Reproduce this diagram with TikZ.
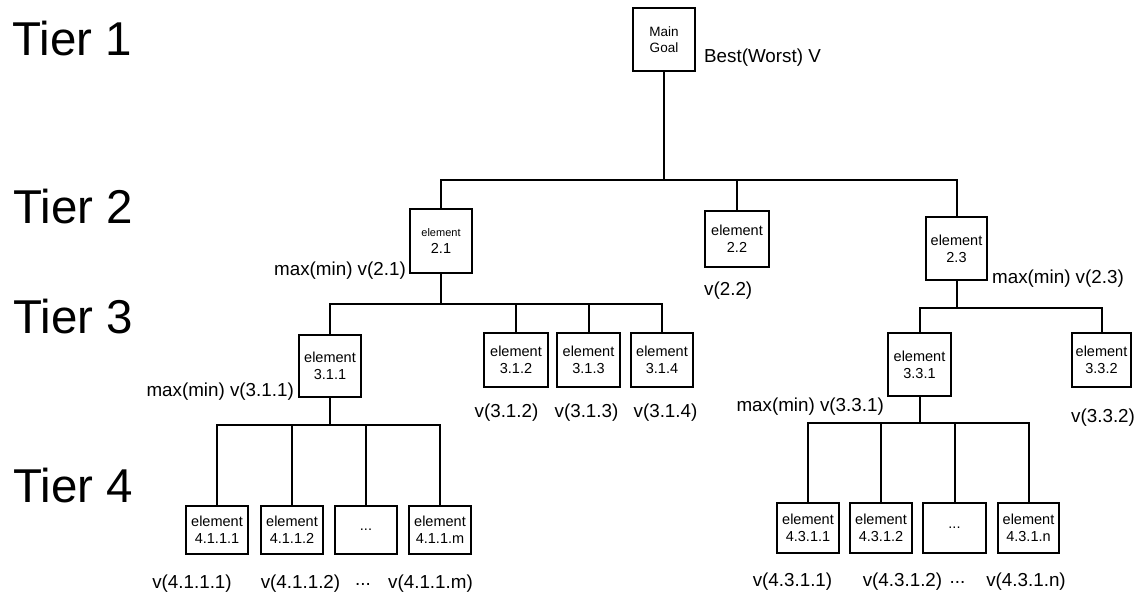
\documentclass[tikz,border=0pt]{standalone}
\usepackage{fontspec}
\setmainfont{Liberation Sans}
\begin{document}
\begin{tikzpicture}[x=1pt,y=-1pt,
  box/.style={draw, line width=2pt, inner sep=0pt, align=center, font=\fontsize{14.5}{17}\selectfont},
  lnk/.style={line width=2pt},
  lab/.style={inner sep=0pt, font=\fontsize{18.8}{22}\selectfont},
  tier/.style={inner sep=0pt, anchor=west, font=\fontsize{47.5}{50}\selectfont}]
\useasboundingbox (0,0) rectangle (1136,594);

% tier labels
\node[tier] (t1) at (12,39) {Tier 1};
\node[tier] (t2) at (13,207) {Tier 2};
\node[tier] (t3) at (13,317) {Tier 3};
\node[tier] (t4) at (13,486) {Tier 4};

% tier 1
\node[box, minimum width=62pt, minimum height=63pt, font=\fontsize{13.5}{16}\selectfont] (mg) at (664,40) {Main\\Goal};
\node[lab, anchor=west] (lmg) at (704,58) {Best(Worst) V};

% tier 2
\node[box, minimum width=62pt, minimum height=64pt] (e21) at (441,241) {{\fontsize{11}{13}\selectfont element}\\2.1};
\node[box, minimum width=64pt, minimum height=56pt] (e22) at (737,239) {element\\2.2};
\node[box, minimum width=61pt, minimum height=63pt] (e23) at (956.5,248.5) {element\\2.3};
\node[lab, anchor=east] (l21) at (406,271) {max(min) v(2.1)};
\node[lab, anchor=west] (l22) at (704,291) {v(2.2)};
\node[lab, anchor=west] (l23) at (992,279) {max(min) v(2.3)};

% tier 3
\node[box, minimum width=62pt, minimum height=62pt] (e311) at (330,366) {element\\3.1.1};
\node[box, minimum width=64pt, minimum height=54pt] (e312) at (516,360) {element\\3.1.2};
\node[box, minimum width=63pt, minimum height=54pt] (e313) at (588.5,360) {element\\3.1.3};
\node[box, minimum width=62pt, minimum height=54pt] (e314) at (662,360) {element\\3.1.4};
\node[box, minimum width=63pt, minimum height=63pt] (e331) at (919.5,364.5) {element\\3.3.1};
\node[box, minimum width=59pt, minimum height=54pt] (e332) at (1101.5,360) {element\\3.3.2};
\node[lab, anchor=east] (l311) at (294,392) {max(min) v(3.1.1)};
\node[lab] (l312) at (506.5,413) {v(3.1.2)};
\node[lab] (l313) at (586.5,413) {v(3.1.3)};
\node[lab] (l314) at (665.5,413) {v(3.1.4)};
\node[lab, anchor=east] (l331) at (884,407) {max(min) v(3.3.1)};
\node[lab, anchor=west] (l332) at (1071,418) {v(3.3.2)};

% tier 4 left
\node[box, minimum width=62pt, minimum height=48pt] (f1) at (217,530) {element\\4.1.1.1};
\node[box, minimum width=62pt, minimum height=48pt] (f2) at (292,530) {element\\4.1.1.2};
\node[box, minimum width=62pt, minimum height=48pt] (f3) at (366,530) {...};
\node[box, minimum width=62pt, minimum height=48pt] (f4) at (440,530) {element\\4.1.1.m};
\node[lab] (lf1) at (192,584) {v(4.1.1.1)};
\node[lab] (lf2) at (300.5,584) {v(4.1.1.2)};
\node[lab] (lf3) at (363,584) {...};
\node[lab] (lf4) at (430.5,584) {v(4.1.1.m)};

% tier 4 right
\node[box, minimum width=62pt, minimum height=50pt] (g1) at (808,528) {element\\4.3.1.1};
\node[box, minimum width=62pt, minimum height=50pt] (g2) at (881,528) {element\\4.3.1.2};
\node[box, minimum width=63pt, minimum height=50pt] (g3) at (954.5,528) {...};
\node[box, minimum width=61pt, minimum height=50pt] (g4) at (1028.5,528) {element\\4.3.1.n};
\node[lab] (lg1) at (792.5,582) {v(4.3.1.1)};
\node[lab] (lg2) at (902.5,582) {v(4.3.1.2)};
\node[lab] (lg3) at (957.5,582) {...};
\node[lab] (lg4) at (1026,582) {v(4.3.1.n)};

% connectors
\coordinate (b2) at (664,180);
\draw[lnk] (mg.south) -- (b2);
\draw[lnk] (e21.north) |- (b2) -| (e23.north);
\draw[lnk] (e22.north) -- (e22.north |- b2);

\coordinate (b31) at (441,304);
\draw[lnk] (e21.south) -- (b31);
\draw[lnk] (e311.north) |- (b31) -| (e314.north);
\draw[lnk] (e312.north) -- (e312.north |- b31);
\draw[lnk] (e313.north) -- (e313.north |- b31);

\coordinate (b33) at (956.5,308);
\draw[lnk] (e23.south) -- (b33);
\draw[lnk] (e331.north) |- (b33) -| (e332.north);

\coordinate (b41) at (330,425);
\draw[lnk] (e311.south) -- (b41);
\draw[lnk] (f1.north) |- (b41) -| (f4.north);
\draw[lnk] (f2.north) -- (f2.north |- b41);
\draw[lnk] (f3.north) -- (f3.north |- b41);

\coordinate (b43) at (919.5,423);
\draw[lnk] (e331.south) -- (b43);
\draw[lnk] (g1.north) |- (b43) -| (g4.north);
\draw[lnk] (g2.north) -- (g2.north |- b43);
\draw[lnk] (g3.north) -- (g3.north |- b43);
\end{tikzpicture}
\end{document}
